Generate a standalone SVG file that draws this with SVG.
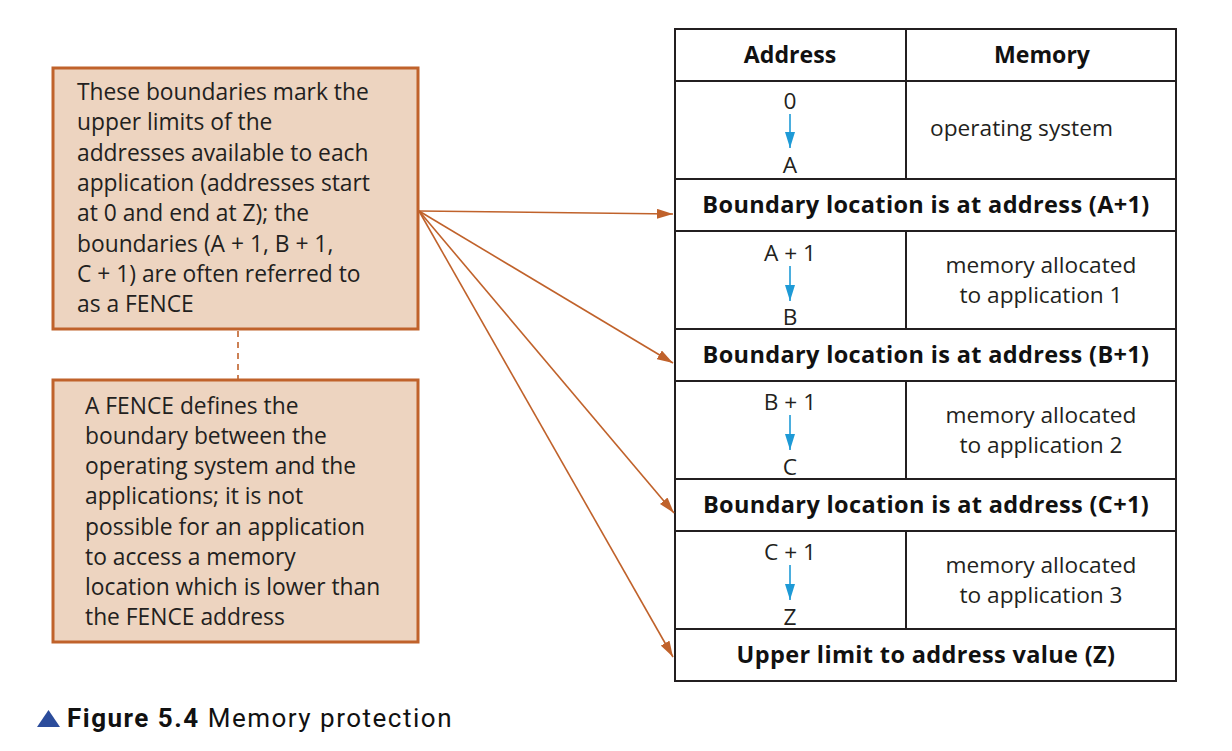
<svg xmlns="http://www.w3.org/2000/svg" width="1232" height="751" viewBox="0 0 1232 751">
  <defs>
    <style>
      .note { fill: #EDD4C0; stroke: #C0622B; stroke-width: 3; }
      .nt { font-family: "Open Sans", "Noto Sans", sans-serif; font-size: 22.8px; fill: #231F20; }
      .t { font-family: "Open Sans", "Noto Sans", sans-serif; font-size: 22.7px; fill: #231F20; }
      .tb { font-family: "Open Sans", "Noto Sans", sans-serif; font-size: 23.1px; font-weight: 700; fill: #111; }
      .bd { font-size: 23.5px; letter-spacing: 0.35px; }
      .c { text-anchor: middle; }
      .grid { stroke: #231F20; stroke-width: 2; fill: none; }
      .conn { stroke: #C0622B; stroke-width: 1.6; fill: none; }
      .blue { stroke: #1E9AD6; stroke-width: 1.6; fill: none; }
      .cap { font-family: "Roboto", "DejaVu Sans", sans-serif; font-size: 26px; letter-spacing: 1.5px; fill: #111; }
    </style>
    <marker id="ah" viewBox="0 0 16 10" refX="16" refY="5" markerWidth="16" markerHeight="10" markerUnits="userSpaceOnUse" orient="auto">
      <path d="M0,0 L16,5 L0,10 Z" fill="#C0622B"/>
    </marker>
    <marker id="bh" viewBox="0 0 16 10" refX="16" refY="5" markerWidth="16" markerHeight="10" markerUnits="userSpaceOnUse" orient="auto">
      <path d="M0,0 L16,5 L0,10 Z" fill="#1E9AD6"/>
    </marker>
  </defs>

  <g id="note-boundaries">
    <rect class="note" x="53" y="68" width="365" height="261"/>
    <text class="nt" x="77" y="100">These boundaries mark the</text>
    <text class="nt" x="77" y="130">upper limits of the</text>
    <text class="nt" x="77" y="161">addresses available to each</text>
    <text class="nt" x="77" y="191">application (addresses start</text>
    <text class="nt" x="77" y="221">at 0 and end at Z); the</text>
    <text class="nt" x="77" y="252">boundaries (A + 1, B + 1,</text>
    <text class="nt" x="77" y="282">C + 1) are often referred to</text>
    <text class="nt" x="77" y="312">as a FENCE</text>
  </g>

  <g id="note-fence">
    <rect class="note" x="53" y="380" width="365" height="262"/>
    <text class="nt" x="85" y="414">A FENCE defines the</text>
    <text class="nt" x="85" y="444">boundary between the</text>
    <text class="nt" x="85" y="474">operating system and the</text>
    <text class="nt" x="85" y="504">applications; it is not</text>
    <text class="nt" x="85" y="535">possible for an application</text>
    <text class="nt" x="85" y="565">to access a memory</text>
    <text class="nt" x="85" y="595">location which is lower than</text>
    <text class="nt" x="85" y="625">the FENCE address</text>
  </g>

  <g id="memory-table">
    <rect class="grid" x="675" y="29" width="501" height="652"/>
    <path class="grid" d="M675,81H1176 M675,179H1176 M675,231H1176 M675,329H1176 M675,381H1176 M675,479H1176 M675,531H1176 M675,629H1176 M906,29V81 M906,81V179 M906,231V329 M906,381V479 M906,531V629"/>
    <text class="tb c" x="790" y="63">Address</text>
    <text class="tb c" x="1042" y="63">Memory</text>

    <text class="t c" x="790" y="109">0</text>
    <line class="blue" x1="790" y1="114" x2="790" y2="148" marker-end="url(#bh)"/>
    <text class="t c" x="790" y="173">A</text>
    <text class="t" x="930" y="136">operating system</text>

    <text class="tb bd c" x="926" y="213">Boundary location is at address (A+1)</text>

    <text class="t c" x="790" y="261">A + 1</text>
    <line class="blue" x1="790" y1="266" x2="790" y2="301" marker-end="url(#bh)"/>
    <text class="t c" x="790" y="325">B</text>
    <text class="t c" x="1041" y="273">memory allocated</text>
    <text class="t c" x="1041" y="303">to application 1</text>

    <text class="tb bd c" x="926" y="363">Boundary location is at address (B+1)</text>

    <text class="t c" x="790" y="410">B + 1</text>
    <line class="blue" x1="790" y1="415" x2="790" y2="450" marker-end="url(#bh)"/>
    <text class="t c" x="790" y="475">C</text>
    <text class="t c" x="1041" y="423">memory allocated</text>
    <text class="t c" x="1041" y="453">to application 2</text>

    <text class="tb bd c" x="926" y="513">Boundary location is at address (C+1)</text>

    <text class="t c" x="790" y="560">C + 1</text>
    <line class="blue" x1="790" y1="565" x2="790" y2="600" marker-end="url(#bh)"/>
    <text class="t c" x="790" y="625">Z</text>
    <text class="t c" x="1041" y="573">memory allocated</text>
    <text class="t c" x="1041" y="603">to application 3</text>

    <text class="tb bd c" x="926" y="663">Upper limit to address value (Z)</text>
  </g>

  <g id="connectors">
    <line class="conn" x1="238" y1="331" x2="238" y2="379" stroke-width="3" stroke-dasharray="6,5"/>
    <line class="conn" x1="419" y1="211" x2="673" y2="214" marker-end="url(#ah)"/>
    <line class="conn" x1="419" y1="211" x2="673" y2="363" marker-end="url(#ah)"/>
    <line class="conn" x1="419" y1="211" x2="674" y2="513" marker-end="url(#ah)"/>
    <line class="conn" x1="419" y1="211" x2="673" y2="657" marker-end="url(#ah)"/>
  </g>

  <g id="caption">
    <path d="M37,727 L60,727 L48.5,710 Z" fill="#2B4C9B"/>
    <text class="cap" x="67" y="727"><tspan font-weight="700">Figure 5.4</tspan> Memory protection</text>
  </g>
</svg>
